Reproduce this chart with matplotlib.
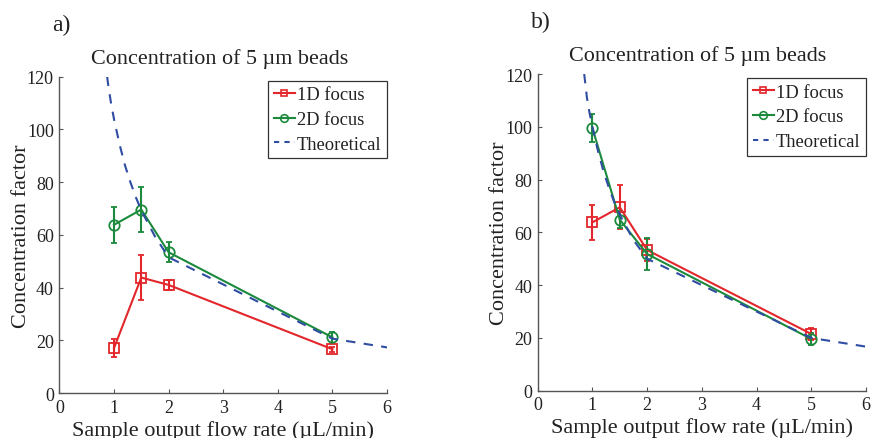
import matplotlib
matplotlib.use("Agg")
import matplotlib.pyplot as plt
from matplotlib.lines import Line2D

plt.rcParams['font.family'] = ['Liberation Serif', 'DejaVu Serif']

# Sample output flow rates (uL/min)
flow = [1.0, 1.5, 2.0, 5.0]

# Panel a
a_1d = [17.0, 43.8, 41.0, 16.6]
a_1d_err = [3.3, 8.4, 2.0, 1.0]
a_2d = [63.8, 69.6, 53.4, 21.1]
a_2d_err = [6.8, 8.4, 3.8, 2.2]
a_theory_x = [0.875, 0.9, 0.95, 1.0, 1.1, 1.2, 1.3, 1.4, 1.5, 1.75, 2.0, 5.0, 6.0]
a_theory_y = [120.0, 116.0, 109.5, 104.0, 94.5, 86.5, 80.0, 74.3, 69.3, 59.4, 51.5, 20.6, 17.3]

# Panel b
b_1d = [63.8, 69.5, 53.3, 21.5]
b_1d_err = [6.7, 8.4, 4.2, 2.2]
b_2d = [99.5, 64.8, 51.8, 19.6]
b_2d_err = [5.4, 3.2, 6.0, 2.2]
b_theory_x = [0.85, 0.9, 0.95, 1.0, 1.1, 1.2, 1.3, 1.4, 1.5, 1.75, 2.0, 5.0, 6.0]
b_theory_y = [120.0, 111.0, 105.0, 100.0, 91.0, 83.3, 77.0, 71.4, 66.7, 57.1, 50.0, 20.0, 16.7]

x_ticks = [0, 1, 2, 3, 4, 5, 6]
y_ticks = [0, 20, 40, 60, 80, 100, 120]

RED = '#e3262b'
GREEN = '#1c8a3c'
BLUE = '#2f4da3'
SPINE = '#555555'
TEXT = '#222222'

fig = plt.figure(figsize=(8.74, 4.39), dpi=100)
ax_a = fig.add_axes([0.0679, 0.1025, 0.3750, 0.7205])
ax_b = fig.add_axes([0.6152, 0.1077, 0.3757, 0.7214])


def draw_panel(ax, d1, e1, d2, e2, tx, ty, tag):
    ax.errorbar(flow, d1, yerr=e1, color=RED, lw=1.5, marker='s', ms=6.5,
                mfc='none', mec=RED, mew=1.3, capsize=2.2, elinewidth=1.5,
                capthick=1.3, zorder=3)
    ax.errorbar(flow, d2, yerr=e2, color=GREEN, lw=1.5, marker='o', ms=7.5,
                mfc='none', mec=GREEN, mew=1.3, capsize=2.2, elinewidth=1.5,
                capthick=1.3, zorder=3)
    ax.plot(tx, ty, color=BLUE, lw=1.5, dashes=(4.5, 4.0), zorder=4)

    ax.set_xlim(0, 6)
    ax.set_ylim(0, 120)
    ax.set_xticks(x_ticks)
    ax.set_yticks(y_ticks)
    for s in ('top', 'right'):
        ax.spines[s].set_visible(False)
    for s in ('left', 'bottom'):
        ax.spines[s].set_color(SPINE)
        ax.spines[s].set_linewidth(1.0)
    ax.tick_params(direction='in', length=3, width=0.8, color=SPINE,
                   labelsize=13, labelcolor=TEXT, pad=4)

    ax.set_title('Concentration of 5 µm beads', fontsize=15.9, color=TEXT,
                 pad=10, x=0.488)
    ax.set_xlabel('Sample output flow rate (µL/min)', fontsize=16,
                  color=TEXT, labelpad=3)
    ax.set_ylabel('Concentration factor', fontsize=16, color=TEXT,
                  labelpad=-3)

    handles = [
        Line2D([], [], color=RED, lw=1.5, marker='s', ms=5, mfc='none',
               mec=RED, mew=1.2),
        Line2D([], [], color=GREEN, lw=1.5, marker='o', ms=5.5, mfc='none',
               mec=GREEN, mew=1.2),
        Line2D([], [], color=BLUE, lw=1.5, dashes=(2.5, 2.5)),
    ]
    leg = ax.legend(handles, ['1D focus', '2D focus', 'Theoretical'],
                    loc='upper right', bbox_to_anchor=(1.0, 0.987),
                    borderaxespad=0, fontsize=13.3, frameon=True,
                    fancybox=False, handlelength=1.15, handletextpad=0.1,
                    borderpad=0.3, labelspacing=0.42)
    frame = leg.get_frame()
    frame.set_edgecolor('#333333')
    frame.set_linewidth(0.9)
    frame.set_alpha(1)
    for t in leg.get_texts():
        t.set_color(TEXT)
    ax.text(-0.022, 1.148, tag, transform=ax.transAxes, fontsize=17,
            color=TEXT, va='baseline', ha='left')


draw_panel(ax_a, a_1d, a_1d_err, a_2d, a_2d_err, a_theory_x, a_theory_y, 'a)')
draw_panel(ax_b, b_1d, b_1d_err, b_2d, b_2d_err, b_theory_x, b_theory_y, 'b)')

fig.savefig('out.png', dpi=100)
